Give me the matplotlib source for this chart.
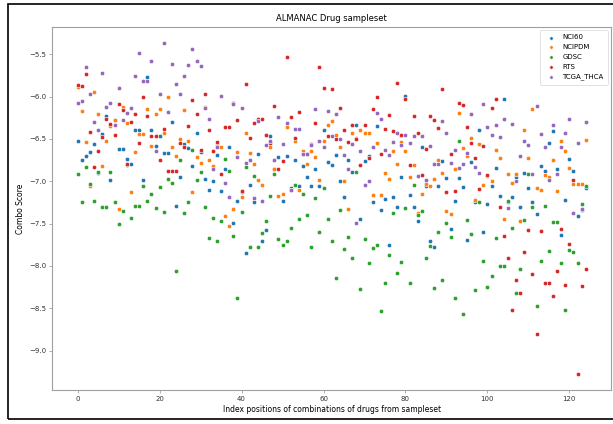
import matplotlib
matplotlib.use("Agg")
import matplotlib.pyplot as plt
from matplotlib.patches import Rectangle

# Combo scores per sample set, indexed 0..124
nci60 = [
    -6.53, -6.75, -6.70, -6.66, -6.56, -6.90, -6.44, -6.23, -6.99, -6.28,
    -6.62, -6.62, -6.74, -6.79, -6.40, -6.40, -6.99, -5.77, -6.40, -6.58,
    -6.47, -6.67, -6.67, -6.30, -7.29, -6.95, -6.56, -6.61, -6.82, -6.43,
    -6.66, -6.97, -7.10, -7.00, -6.69, -7.12, -6.85, -6.60, -7.49, -7.23,
    -7.13, -7.85, -7.04, -7.25, -6.68, -7.70, -7.57, -6.46, -6.86, -6.71,
    -7.23, -6.70, -7.08, -6.75, -7.05, -6.82, -6.95, -7.05, -6.86, -7.05,
    -6.39, -6.77, -6.81, -6.69, -7.00, -7.19, -6.75, -6.89, -6.33, -7.45,
    -6.76, -6.70, -7.24, -6.35, -7.34, -7.21, -7.75, -7.18, -7.30, -6.95,
    -5.99, -7.16, -7.30, -7.47, -6.60, -7.05, -7.70, -7.77, -7.06, -6.76,
    -6.96, -7.56, -7.23, -6.96, -7.07, -7.69, -6.77, -7.25, -6.40, -7.60,
    -7.27, -7.06, -6.84, -7.17, -6.03, -7.25, -7.19, -6.95, -7.30, -6.90,
    -7.08, -7.25, -7.39, -6.82, -6.88, -6.55, -6.41, -6.85, -7.63, -7.22,
    -6.74, -6.88, -7.41, -7.34, -7.08,
]
ncipdm = [
    -5.89, -6.17, -6.54, -7.06, -5.94, -6.21, -6.82, -6.52, -6.35, -6.28,
    -7.33, -6.12, -6.31, -7.13, -6.65, -6.44, -6.44, -6.15, -6.58, -6.21,
    -6.15, -6.43, -6.01, -6.60, -6.70, -6.50, -6.16, -6.52, -7.13, -6.71,
    -6.78, -6.12, -6.75, -6.82, -6.57, -6.60, -7.41, -7.53, -7.33, -6.65,
    -7.19, -6.43, -6.67, -6.80, -6.99, -7.04, -6.45, -6.60, -6.86, -7.17,
    -7.15, -6.36, -7.10, -6.52, -7.10, -6.64, -6.80, -6.64, -6.71, -6.98,
    -6.52, -6.33, -6.29, -6.45, -6.59, -7.00, -7.33, -6.43, -6.49, -6.40,
    -6.43, -6.43, -7.16, -6.55, -7.16, -6.90, -6.97, -6.64, -6.80, -6.54,
    -6.64, -6.95, -6.81, -7.38, -7.15, -7.03, -7.05, -6.97, -6.75, -6.90,
    -7.35, -7.39, -6.85, -6.19, -6.61, -6.70, -6.49, -7.22, -6.56, -7.04,
    -6.94, -7.00, -6.63, -6.73, -7.45, -6.91, -7.02, -6.91, -7.47, -6.39,
    -6.73, -6.15, -7.08, -7.10, -6.92, -6.95, -6.75, -7.12, -6.52, -6.64,
    -6.84, -7.03, -7.03, -7.03, -6.51,
]
gdsc = [
    -6.91, -7.25, -6.83, -7.03, -7.23, -6.89, -7.30, -7.30, -6.89, -7.25,
    -7.51, -7.35, -6.81, -7.43, -7.29, -7.29, -7.05, -7.23, -7.15, -7.31,
    -7.07, -7.36, -6.97, -7.02, -8.06, -6.75, -7.37, -7.24, -6.63, -6.99,
    -6.89, -7.30, -7.67, -7.43, -7.70, -7.47, -6.74, -6.88, -7.65, -8.38,
    -7.36, -6.83, -7.77, -6.94, -7.78, -7.61, -7.47, -7.17, -6.91, -7.68,
    -7.75, -7.70, -7.55, -7.04, -7.44, -7.15, -7.40, -7.77, -7.20, -7.60,
    -7.08, -7.45, -7.70, -8.14, -7.34, -7.80, -7.66, -7.90, -6.89, -8.27,
    -7.68, -7.97, -7.79, -7.75, -8.53, -8.20, -7.87, -7.37, -8.08, -7.95,
    -7.31, -8.20, -7.04, -7.40, -7.35, -7.90, -7.76, -8.26, -7.60, -8.17,
    -7.49, -7.66, -8.38, -6.53, -8.57, -7.46, -7.62, -8.28, -7.25, -7.94,
    -8.25, -8.12, -7.67, -8.00, -8.00, -7.23, -7.55, -8.32, -8.04, -7.46,
    -6.91, -7.30, -8.47, -7.94, -7.29, -7.82, -7.48, -7.48, -7.96, -8.52,
    -7.81, -7.83, -7.97, -7.27, -7.05,
]
rts = [
    -5.86, -5.88, -5.73, -6.42, -6.83, -6.64, -6.48, -6.26, -6.32, -6.45,
    -6.09, -6.16, -6.79, -6.30, -6.20, -6.55, -6.01, -6.23, -6.47, -6.47,
    -6.75, -6.38, -6.88, -6.88, -6.88, -6.55, -6.59, -6.35, -6.04, -6.20,
    -6.63, -5.97, -6.39, -6.64, -6.54, -6.91, -6.36, -6.36, -6.08, -6.28,
    -7.11, -5.85, -6.49, -6.31, -6.26, -6.26, -6.45, -6.55, -6.11, -6.85,
    -6.76, -5.53, -6.24, -6.49, -6.18, -6.68, -6.68, -6.56, -6.31, -5.65,
    -5.90, -6.46, -5.91, -6.50, -6.14, -6.40, -6.54, -6.33, -6.50, -6.81,
    -6.33, -6.72, -6.15, -6.00, -6.68, -6.38, -6.22, -6.41, -5.84, -6.45,
    -6.03, -6.81, -6.23, -6.43, -6.92, -6.62, -6.23, -6.28, -6.37, -5.91,
    -7.13, -6.68, -7.12, -6.08, -6.10, -6.36, -6.55, -6.72, -7.09, -6.58,
    -6.93, -6.13, -6.03, -7.30, -7.65, -7.90, -8.52, -8.17, -8.32, -7.83,
    -7.58, -8.10, -8.80, -7.59, -8.20, -8.20, -8.35, -8.06, -7.56, -8.23,
    -7.74, -6.99, -9.27, -8.24, -8.04,
]
tcga_thca = [
    -6.07, -6.05, -5.65, -5.97, -6.30, -6.40, -5.72, -6.12, -6.08, -6.33,
    -5.90, -6.28, -6.19, -6.13, -5.76, -5.48, -5.82, -5.82, -5.58, -6.64,
    -5.97, -5.37, -6.18, -5.61, -5.85, -5.97, -5.76, -5.63, -5.44, -5.58,
    -5.64, -6.13, -6.26, -6.86, -6.59, -5.99, -7.02, -7.18, -6.09, -6.71,
    -6.13, -6.78, -6.75, -7.20, -6.29, -7.23, -6.57, -6.52, -6.75, -6.24,
    -6.56, -6.31, -7.10, -6.38, -6.38, -6.68, -6.68, -6.57, -6.15, -6.52,
    -6.59, -6.17, -6.47, -6.21, -6.50, -6.69, -6.86, -6.56, -7.49, -6.64,
    -7.04, -7.00, -6.60, -6.19, -6.26, -6.63, -6.69, -6.54, -6.43, -6.57,
    -6.45, -6.55, -6.47, -6.94, -6.47, -6.98, -6.58, -6.80, -6.80, -6.29,
    -6.43, -6.78, -6.63, -6.84, -6.79, -6.67, -6.21, -6.83, -6.90, -6.09,
    -6.36, -6.45, -6.34, -6.48, -6.27, -7.31, -6.32, -7.00, -6.70, -6.52,
    -6.57, -6.91, -6.11, -6.44, -6.60, -6.99, -6.34, -6.91, -6.60, -6.43,
    -6.27, -7.38, -6.55, -7.33, -6.30,
]
series_names = ["NCI60", "NCIPDM", "GDSC", "RTS", "TCGA_THCA"]
colors = ["#1f77b4", "#ff7f0e", "#2ca02c", "#d62728", "#9467bd"]

plt.rcParams["axes.edgecolor"] = "#a0a0a0"
plt.rcParams["xtick.color"] = "#a0a0a0"
plt.rcParams["ytick.color"] = "#a0a0a0"
plt.rcParams["xtick.labelcolor"] = "#333333"
plt.rcParams["ytick.labelcolor"] = "#333333"

fig = plt.figure(figsize=(6.13, 4.24), dpi=100)
ax = fig.add_axes([0.0853, 0.080, 0.9117, 0.857])

all_series = [nci60, ncipdm, gdsc, rts, tcga_thca]
for name, vals, c in zip(series_names, all_series, colors):
    ax.scatter(range(len(vals)), vals, s=10, color=c, edgecolors="white",
               linewidths=0.4, label=name)

ax.set_title("ALMANAC Drug sampleset", fontsize=6, pad=4)
ax.set_xlabel("Index positions of combinations of drugs from sampleset", fontsize=5.5, labelpad=2)
ax.set_ylabel("Combo Score", fontsize=5.5, labelpad=3)
ax.tick_params(labelsize=5, length=2.5, width=0.6, pad=2)
for sp in ax.spines.values():
    sp.set_linewidth(0.8)
ax.set_yticks([-9.0, -8.5, -8.0, -7.5, -7.0, -6.5, -6.0, -5.5])

leg = ax.legend(loc="upper right", fontsize=5, markerscale=0.8, handletextpad=0.6,
                borderpad=0.6, labelspacing=0.55, frameon=True)
leg.get_frame().set_linewidth(0.5)

# outer frame of the screenshot
fig.patches.append(Rectangle((8 / 613, 5 / 424), 1.0, 1 - 9 / 424,
                             transform=fig.transFigure, fill=False,
                             edgecolor="black", linewidth=1.2))

fig.savefig("out.png", dpi=100)
